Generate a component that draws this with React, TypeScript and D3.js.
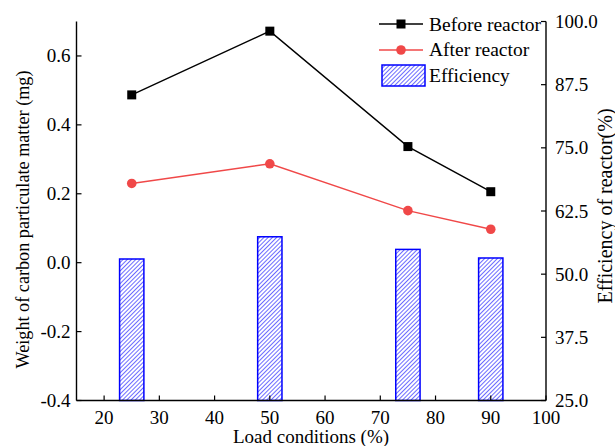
import React from "react";
import * as d3 from "d3";

const loads = [25, 50, 75, 90];
const beforeReactor = [0.487, 0.672, 0.337, 0.206];
const afterReactor = [0.23, 0.287, 0.151, 0.097];
const efficiency = [53.0, 57.4, 54.9, 53.2];

const xTicks = [20, 30, 40, 50, 60, 70, 80, 90, 100];
const yLeftTicks = [-0.4, -0.2, 0.0, 0.2, 0.4, 0.6];
const yRightTicks = [25.0, 37.5, 50.0, 62.5, 75.0, 87.5, 100.0];

const W = 615;
const H = 446;
const font = "'Liberation Serif', 'Times New Roman', serif";

export default function App() {
  const left = 76.5;
  const right = 546;
  const top = 21.5;
  const bottom = 400.5;

  const x = d3.scaleLinear().domain([15, 100]).range([left, right]);
  const yL = d3.scaleLinear().domain([-0.4, 0.7]).range([bottom, top]);
  const yR = d3.scaleLinear().domain([25, 100]).range([bottom, top]);

  const barHalf = 2.2;

  const line = d3
    .line<number>()
    .x((_, i) => x(loads[i]))
    .y((d) => yL(d));

  const fs = 19;
  const red = "#f04848";

  return (
    <svg
      width={W}
      height={H}
      style={{ position: "absolute", left: 0, top: 0, background: "#fff", fontFamily: font }}
    >
      <defs>
        <pattern
          id="hatch"
          patternUnits="userSpaceOnUse"
          width={3}
          height={3}
          patternTransform="rotate(45)"
        >
          <rect width={3} height={3} fill="#fff" />
          <line x1={0} y1={0} x2={0} y2={3} stroke="#1a1aff" strokeWidth={1.3} />
        </pattern>
      </defs>

      {/* bars */}
      {efficiency.map((e, i) => (
        <rect
          key={i}
          x={x(loads[i] - barHalf)}
          y={yR(e)}
          width={x(loads[i] + barHalf) - x(loads[i] - barHalf)}
          height={bottom - yR(e)}
          fill="url(#hatch)"
          stroke="#0000ff"
          strokeWidth={1.5}
        />
      ))}

      {/* lines */}
      <path d={line(beforeReactor) || ""} fill="none" stroke="#000" strokeWidth={1.4} />
      <path d={line(afterReactor) || ""} fill="none" stroke={red} strokeWidth={1.4} />
      {beforeReactor.map((v, i) => (
        <rect key={i} x={x(loads[i]) - 4.5} y={yL(v) - 4.5} width={9} height={9} fill="#000" />
      ))}
      {afterReactor.map((v, i) => (
        <circle key={i} cx={x(loads[i])} cy={yL(v)} r={4.8} fill={red} />
      ))}

      {/* axes lines */}
      <line x1={left} y1={top} x2={left} y2={bottom} stroke="#000" strokeWidth={1.4} />
      <line x1={right} y1={top} x2={right} y2={bottom} stroke="#000" strokeWidth={1.4} />
      <line x1={left} y1={bottom} x2={right} y2={bottom} stroke="#000" strokeWidth={1.4} />

      {/* x ticks */}
      {xTicks.map((t) => (
        <g key={t}>
          <line x1={x(t)} x2={x(t)} y1={bottom} y2={bottom - 5} stroke="#000" strokeWidth={1.2} />
          <text x={x(t)} y={424} textAnchor="middle" fontSize={fs} fill="#000">
            {t}
          </text>
        </g>
      ))}

      {/* left y ticks */}
      {yLeftTicks.map((t) => (
        <g key={t}>
          <line x1={left} x2={left + 5} y1={yL(t)} y2={yL(t)} stroke="#000" strokeWidth={1.2} />
          <text x={left - 6} y={yL(t) + 6.5} textAnchor="end" fontSize={fs} fill="#000">
            {t.toFixed(1)}
          </text>
        </g>
      ))}

      {/* right y ticks */}
      {yRightTicks.map((t) => (
        <g key={t}>
          <line x1={right} x2={right - 5} y1={yR(t)} y2={yR(t)} stroke="#000" strokeWidth={1.2} />
          <text x={right + 9} y={yR(t) + 6.5} textAnchor="start" fontSize={fs} fill="#000">
            {t.toFixed(1)}
          </text>
        </g>
      ))}

      {/* axis titles */}
      <text x={311} y={443} textAnchor="middle" fontSize={fs} fill="#000">
        Load conditions (%)
      </text>
      <text
        transform={`translate(29, 219.5) rotate(-90)`}
        textAnchor="middle"
        fontSize={18.2}
        fill="#000"
      >
        Weight of carbon particulate matter (mg)
      </text>
      <text
        transform={`translate(612, 206) rotate(-90)`}
        textAnchor="middle"
        fontSize={20}
        fill="#000"
      >
        Efficiency of reactor(%)
      </text>

      {/* legend */}
      <g>
        <line x1={379} x2={423} y1={24} y2={24} stroke="#000" strokeWidth={1.4} />
        <rect x={396.5} y={19.5} width={9} height={9} fill="#000" />
        <text x={429} y={30.5} fontSize={19.5} fill="#000">
          Before reactor
        </text>
        <line x1={379} x2={423} y1={50} y2={50} stroke={red} strokeWidth={1.4} />
        <circle cx={401} cy={50} r={4.8} fill={red} />
        <text x={429} y={56} fontSize={19.5} fill="#000">
          After reactor
        </text>
        <rect
          x={382}
          y={65}
          width={43}
          height={21}
          fill="url(#hatch)"
          stroke="#0000ff"
          strokeWidth={1.5}
        />
        <text x={429} y={82} fontSize={19.5} fill="#000">
          Efficiency
        </text>
      </g>
    </svg>
  );
}
